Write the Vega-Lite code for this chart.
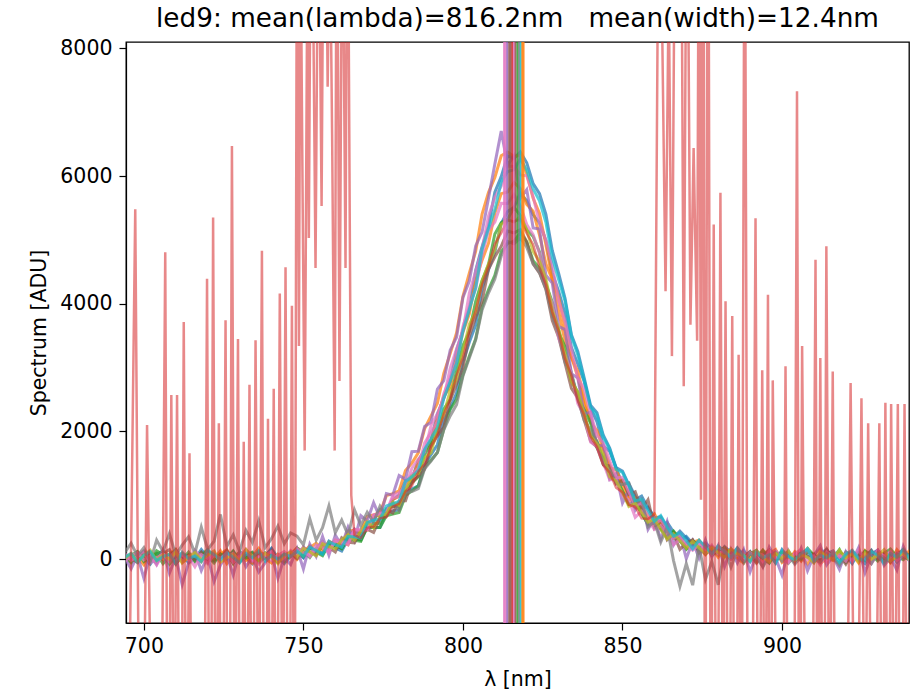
{
"$schema": "https://vega.github.io/schema/vega-lite/v6.json",
"width": 783, "height": 581,
"autosize": {"type": "none"},
"padding": {"left": 126, "top": 42, "right": 7, "bottom": 73},
"background": "white",
"title": {"text": "led9: mean(lambda)=816.2nm\u00a0\u00a0\u00a0mean(width)=12.4nm", "font": "DejaVu Sans", "fontSize": 26.3, "fontWeight": "normal", "color": "black", "anchor": "middle", "offset": 6},
"config": {
 "view": {"stroke": "black", "strokeWidth": 1.3},
 "axis": {"labelFont": "DejaVu Sans", "titleFont": "DejaVu Sans", "labelFontSize": 20.5, "titleFontSize": 20.5, "titleFontWeight": "normal", "labelColor": "black", "titleColor": "black", "tickColor": "black", "domainColor": "black", "tickSize": 7, "tickWidth": 1.2, "domainWidth": 1.2, "grid": false, "labelOverlap": false, "format": "d"}
},
"datasets": {
"spectra": [
{"s":"C0","w":694,"v":60},{"s":"C0","w":696,"v":-40},{"s":"C0","w":698,"v":110},{"s":"C0","w":700,"v":20},{"s":"C0","w":702,"v":-80},{"s":"C0","w":704,"v":70},{"s":"C0","w":706,"v":130},{"s":"C0","w":708,"v":-20},{"s":"C0","w":710,"v":40},{"s":"C0","w":712,"v":90},{"s":"C0","w":714,"v":-60},{"s":"C0","w":716,"v":10},{"s":"C0","w":718,"v":150},{"s":"C0","w":720,"v":30},{"s":"C0","w":722,"v":-30},{"s":"C0","w":724,"v":80},{"s":"C0","w":726,"v":0},{"s":"C0","w":728,"v":120},{"s":"C0","w":730,"v":-50},{"s":"C0","w":732,"v":60},{"s":"C0","w":734,"v":100},{"s":"C0","w":736,"v":-10},{"s":"C0","w":738,"v":40},{"s":"C0","w":740,"v":170},{"s":"C0","w":742,"v":20},{"s":"C0","w":744,"v":-70},{"s":"C0","w":746,"v":50},
{"s":"C0","w":748,"v":108},{"s":"C0","w":750,"v":27},{"s":"C0","w":752,"v":189},{"s":"C0","w":754,"v":128},{"s":"C0","w":756,"v":97},{"s":"C0","w":758,"v":282},{"s":"C0","w":760,"v":220},{"s":"C0","w":762,"v":168},{"s":"C0","w":764,"v":342},{"s":"C0","w":766,"v":469},{"s":"C0","w":768,"v":378},{"s":"C0","w":770,"v":564},{"s":"C0","w":772,"v":604},{"s":"C0","w":774,"v":776},{"s":"C0","w":776,"v":711},{"s":"C0","w":778,"v":928},{"s":"C0","w":780,"v":1008},{"s":"C0","w":782,"v":1233},{"s":"C0","w":784,"v":1250},{"s":"C0","w":786,"v":1543},{"s":"C0","w":788,"v":1711},{"s":"C0","w":790,"v":1860},{"s":"C0","w":792,"v":2275},{"s":"C0","w":794,"v":2521},{"s":"C0","w":796,"v":2778},{"s":"C0","w":798,"v":3274},{"s":"C0","w":800,"v":3584},{"s":"C0","w":802,"v":3906},{"s":"C0","w":804,"v":4525},{"s":"C0","w":806,"v":4896},{"s":"C0","w":808,"v":5212},{"s":"C0","w":810,"v":5746},{"s":"C0","w":812,"v":5991},{"s":"C0","w":814,"v":6318},{"s":"C0","w":816,"v":6277},{"s":"C0","w":818,"v":6377},{"s":"C0","w":820,"v":6208},{"s":"C0","w":822,"v":5881},{"s":"C0","w":824,"v":5726},{"s":"C0","w":826,"v":5402},{"s":"C0","w":828,"v":4836},{"s":"C0","w":830,"v":4475},{"s":"C0","w":832,"v":4086},{"s":"C0","w":834,"v":3514},{"s":"C0","w":836,"v":3254},{"s":"C0","w":838,"v":2838},{"s":"C0","w":840,"v":2411},{"s":"C0","w":842,"v":2295},{"s":"C0","w":844,"v":1940},{"s":"C0","w":846,"v":1741},{"s":"C0","w":848,"v":1433},{"s":"C0","w":850,"v":1380},{"s":"C0","w":852,"v":1163},{"s":"C0","w":854,"v":928},{"s":"C0","w":856,"v":988},{"s":"C0","w":858,"v":801},{"s":"C0","w":860,"v":646},{"s":"C0","w":862,"v":664},{"s":"C0","w":864,"v":494},{"s":"C0","w":866,"v":338},{"s":"C0","w":868,"v":439},{"s":"C0","w":870,"v":332},{"s":"C0","w":872,"v":208},{"s":"C0","w":874,"v":290},{"s":"C0","w":876,"v":172},{"s":"C0","w":878,"v":77},{"s":"C0","w":880,"v":188},{"s":"C0","w":882,"v":119},{"s":"C0","w":884,"v":47},{"s":"C0","w":886,"v":178},
{"s":"C0","w":888,"v":40},{"s":"C0","w":890,"v":120},{"s":"C0","w":892,"v":-30},{"s":"C0","w":894,"v":60},{"s":"C0","w":896,"v":90},{"s":"C0","w":898,"v":-60},{"s":"C0","w":900,"v":150},{"s":"C0","w":902,"v":20},{"s":"C0","w":904,"v":70},{"s":"C0","w":906,"v":-20},{"s":"C0","w":908,"v":110},{"s":"C0","w":910,"v":50},{"s":"C0","w":912,"v":-40},{"s":"C0","w":914,"v":80},{"s":"C0","w":916,"v":130},{"s":"C0","w":918,"v":0},{"s":"C0","w":920,"v":60},{"s":"C0","w":922,"v":-70},{"s":"C0","w":924,"v":100},{"s":"C0","w":926,"v":30},{"s":"C0","w":928,"v":140},{"s":"C0","w":930,"v":-10},{"s":"C0","w":932,"v":50},{"s":"C0","w":934,"v":90},{"s":"C0","w":936,"v":-50},{"s":"C0","w":938,"v":70},{"s":"C0","w":940,"v":20},
{"s":"C0b","w":694,"v":70},{"s":"C0b","w":696,"v":-30},{"s":"C0b","w":698,"v":40},{"s":"C0b","w":700,"v":120},{"s":"C0b","w":702,"v":10},{"s":"C0b","w":704,"v":-60},{"s":"C0b","w":706,"v":90},{"s":"C0b","w":708,"v":30},{"s":"C0b","w":710,"v":150},{"s":"C0b","w":712,"v":-20},{"s":"C0b","w":714,"v":60},{"s":"C0b","w":716,"v":0},{"s":"C0b","w":718,"v":110},{"s":"C0b","w":720,"v":-50},{"s":"C0b","w":722,"v":80},{"s":"C0b","w":724,"v":40},{"s":"C0b","w":726,"v":130},{"s":"C0b","w":728,"v":-10},{"s":"C0b","w":730,"v":70},{"s":"C0b","w":732,"v":20},{"s":"C0b","w":734,"v":-70},{"s":"C0b","w":736,"v":100},{"s":"C0b","w":738,"v":50},{"s":"C0b","w":740,"v":160},{"s":"C0b","w":742,"v":-40},{"s":"C0b","w":744,"v":30},{"s":"C0b","w":746,"v":90},
{"s":"C0b","w":748,"v":124},{"s":"C0b","w":750,"v":25},{"s":"C0b","w":752,"v":180},{"s":"C0b","w":754,"v":127},{"s":"C0b","w":756,"v":74},{"s":"C0b","w":758,"v":256},{"s":"C0b","w":760,"v":174},{"s":"C0b","w":762,"v":128},{"s":"C0b","w":764,"v":312},{"s":"C0b","w":766,"v":316},{"s":"C0b","w":768,"v":302},{"s":"C0b","w":770,"v":494},{"s":"C0b","w":772,"v":498},{"s":"C0b","w":774,"v":496},{"s":"C0b","w":776,"v":725},{"s":"C0b","w":778,"v":754},{"s":"C0b","w":780,"v":775},{"s":"C0b","w":782,"v":1053},{"s":"C0b","w":784,"v":1097},{"s":"C0b","w":786,"v":1148},{"s":"C0b","w":788,"v":1472},{"s":"C0b","w":790,"v":1638},{"s":"C0b","w":792,"v":1792},{"s":"C0b","w":794,"v":2184},{"s":"C0b","w":796,"v":2364},{"s":"C0b","w":798,"v":2602},{"s":"C0b","w":800,"v":3088},{"s":"C0b","w":802,"v":3396},{"s":"C0b","w":804,"v":3667},{"s":"C0b","w":806,"v":4244},{"s":"C0b","w":808,"v":4534},{"s":"C0b","w":810,"v":4813},{"s":"C0b","w":812,"v":5256},{"s":"C0b","w":814,"v":5443},{"s":"C0b","w":816,"v":5514},{"s":"C0b","w":818,"v":5730},{"s":"C0b","w":820,"v":5614},{"s":"C0b","w":822,"v":5393},{"s":"C0b","w":824,"v":5266},{"s":"C0b","w":826,"v":4993},{"s":"C0b","w":828,"v":4484},{"s":"C0b","w":830,"v":4194},{"s":"C0b","w":832,"v":3847},{"s":"C0b","w":834,"v":3316},{"s":"C0b","w":836,"v":3058},{"s":"C0b","w":838,"v":2782},{"s":"C0b","w":840,"v":2364},{"s":"C0b","w":842,"v":2154},{"s":"C0b","w":844,"v":1772},{"s":"C0b","w":846,"v":1688},{"s":"C0b","w":848,"v":1432},{"s":"C0b","w":850,"v":1168},{"s":"C0b","w":852,"v":1187},{"s":"C0b","w":854,"v":983},{"s":"C0b","w":856,"v":795},{"s":"C0b","w":858,"v":814},{"s":"C0b","w":860,"v":655},{"s":"C0b","w":862,"v":486},{"s":"C0b","w":864,"v":578},{"s":"C0b","w":866,"v":424},{"s":"C0b","w":868,"v":292},{"s":"C0b","w":870,"v":356},{"s":"C0b","w":872,"v":242},{"s":"C0b","w":874,"v":138},{"s":"C0b","w":876,"v":254},{"s":"C0b","w":878,"v":156},{"s":"C0b","w":880,"v":64},{"s":"C0b","w":882,"v":197},{"s":"C0b","w":884,"v":110},{"s":"C0b","w":886,"v":35},{"s":"C0b","w":888,"v":134},
{"s":"C0b","w":890,"v":-20},{"s":"C0b","w":892,"v":100},{"s":"C0b","w":894,"v":40},{"s":"C0b","w":896,"v":-60},{"s":"C0b","w":898,"v":130},{"s":"C0b","w":900,"v":20},{"s":"C0b","w":902,"v":70},{"s":"C0b","w":904,"v":-30},{"s":"C0b","w":906,"v":110},{"s":"C0b","w":908,"v":50},{"s":"C0b","w":910,"v":-50},{"s":"C0b","w":912,"v":90},{"s":"C0b","w":914,"v":150},{"s":"C0b","w":916,"v":0},{"s":"C0b","w":918,"v":60},{"s":"C0b","w":920,"v":-40},{"s":"C0b","w":922,"v":120},{"s":"C0b","w":924,"v":30},{"s":"C0b","w":926,"v":-70},{"s":"C0b","w":928,"v":80},{"s":"C0b","w":930,"v":140},{"s":"C0b","w":932,"v":10},{"s":"C0b","w":934,"v":-20},{"s":"C0b","w":936,"v":100},{"s":"C0b","w":938,"v":50},{"s":"C0b","w":940,"v":-10},
{"s":"C1","w":694,"v":-20},{"s":"C1","w":696,"v":70},{"s":"C1","w":698,"v":30},{"s":"C1","w":700,"v":-90},{"s":"C1","w":702,"v":110},{"s":"C1","w":704,"v":40},{"s":"C1","w":706,"v":-10},{"s":"C1","w":708,"v":80},{"s":"C1","w":710,"v":150},{"s":"C1","w":712,"v":-50},{"s":"C1","w":714,"v":20},{"s":"C1","w":716,"v":90},{"s":"C1","w":718,"v":-30},{"s":"C1","w":720,"v":60},{"s":"C1","w":722,"v":0},{"s":"C1","w":724,"v":130},{"s":"C1","w":726,"v":-70},{"s":"C1","w":728,"v":50},{"s":"C1","w":730,"v":100},{"s":"C1","w":732,"v":-20},{"s":"C1","w":734,"v":40},{"s":"C1","w":736,"v":170},{"s":"C1","w":738,"v":10},{"s":"C1","w":740,"v":-60},{"s":"C1","w":742,"v":80},{"s":"C1","w":744,"v":30},
{"s":"C1","w":746,"v":115},{"s":"C1","w":748,"v":-4},{"s":"C1","w":750,"v":102},{"s":"C1","w":752,"v":210},{"s":"C1","w":754,"v":87},{"s":"C1","w":756,"v":200},{"s":"C1","w":758,"v":159},{"s":"C1","w":760,"v":294},{"s":"C1","w":762,"v":279},{"s":"C1","w":764,"v":225},{"s":"C1","w":766,"v":413},{"s":"C1","w":768,"v":427},{"s":"C1","w":770,"v":454},{"s":"C1","w":772,"v":685},{"s":"C1","w":774,"v":686},{"s":"C1","w":776,"v":679},{"s":"C1","w":778,"v":934},{"s":"C1","w":780,"v":985},{"s":"C1","w":782,"v":1175},{"s":"C1","w":784,"v":1221},{"s":"C1","w":786,"v":1541},{"s":"C1","w":788,"v":1674},{"s":"C1","w":790,"v":1846},{"s":"C1","w":792,"v":2217},{"s":"C1","w":794,"v":2557},{"s":"C1","w":796,"v":2696},{"s":"C1","w":798,"v":3144},{"s":"C1","w":800,"v":3555},{"s":"C1","w":802,"v":3840},{"s":"C1","w":804,"v":4370},{"s":"C1","w":806,"v":4684},{"s":"C1","w":808,"v":4945},{"s":"C1","w":810,"v":5420},{"s":"C1","w":812,"v":5725},{"s":"C1","w":814,"v":5752},{"s":"C1","w":816,"v":5900},{"s":"C1","w":818,"v":5802},{"s":"C1","w":820,"v":5555},{"s":"C1","w":822,"v":5450},{"s":"C1","w":824,"v":5075},{"s":"C1","w":826,"v":4624},{"s":"C1","w":828,"v":4380},{"s":"C1","w":830,"v":3880},{"s":"C1","w":832,"v":3405},{"s":"C1","w":834,"v":3164},{"s":"C1","w":836,"v":2856},{"s":"C1","w":838,"v":2417},{"s":"C1","w":840,"v":2197},{"s":"C1","w":842,"v":1806},{"s":"C1","w":844,"v":1744},{"s":"C1","w":846,"v":1481},{"s":"C1","w":848,"v":1241},{"s":"C1","w":850,"v":1235},{"s":"C1","w":852,"v":985},{"s":"C1","w":854,"v":804},{"s":"C1","w":856,"v":819},{"s":"C1","w":858,"v":676},{"s":"C1","w":860,"v":505},{"s":"C1","w":862,"v":594},{"s":"C1","w":864,"v":447},{"s":"C1","w":866,"v":323},{"s":"C1","w":868,"v":365},{"s":"C1","w":870,"v":189},{"s":"C1","w":872,"v":264},{"s":"C1","w":874,"v":299},{"s":"C1","w":876,"v":130},{"s":"C1","w":878,"v":167},{"s":"C1","w":880,"v":30},{"s":"C1","w":882,"v":172},{"s":"C1","w":884,"v":96},{"s":"C1","w":886,"v":25},
{"s":"C1","w":888,"v":100},{"s":"C1","w":890,"v":30},{"s":"C1","w":892,"v":-50},{"s":"C1","w":894,"v":140},{"s":"C1","w":896,"v":60},{"s":"C1","w":898,"v":10},{"s":"C1","w":900,"v":90},{"s":"C1","w":902,"v":-30},{"s":"C1","w":904,"v":120},{"s":"C1","w":906,"v":50},{"s":"C1","w":908,"v":-80},{"s":"C1","w":910,"v":70},{"s":"C1","w":912,"v":160},{"s":"C1","w":914,"v":20},{"s":"C1","w":916,"v":-20},{"s":"C1","w":918,"v":110},{"s":"C1","w":920,"v":40},{"s":"C1","w":922,"v":80},{"s":"C1","w":924,"v":-60},{"s":"C1","w":926,"v":130},{"s":"C1","w":928,"v":0},{"s":"C1","w":930,"v":60},{"s":"C1","w":932,"v":100},{"s":"C1","w":934,"v":-40},{"s":"C1","w":936,"v":150},{"s":"C1","w":938,"v":30},{"s":"C1","w":940,"v":70},
{"s":"C1b","w":694,"v":40},{"s":"C1b","w":696,"v":-50},{"s":"C1b","w":698,"v":100},{"s":"C1b","w":700,"v":10},{"s":"C1b","w":702,"v":70},{"s":"C1b","w":704,"v":-20},{"s":"C1b","w":706,"v":130},{"s":"C1b","w":708,"v":50},{"s":"C1b","w":710,"v":-80},{"s":"C1b","w":712,"v":90},{"s":"C1b","w":714,"v":20},{"s":"C1b","w":716,"v":60},{"s":"C1b","w":718,"v":-40},{"s":"C1b","w":720,"v":110},{"s":"C1b","w":722,"v":0},{"s":"C1b","w":724,"v":80},{"s":"C1b","w":726,"v":150},{"s":"C1b","w":728,"v":-30},{"s":"C1b","w":730,"v":60},{"s":"C1b","w":732,"v":20},{"s":"C1b","w":734,"v":-60},{"s":"C1b","w":736,"v":120},{"s":"C1b","w":738,"v":40},{"s":"C1b","w":740,"v":90},{"s":"C1b","w":742,"v":-10},{"s":"C1b","w":744,"v":70},
{"s":"C1b","w":746,"v":88},{"s":"C1b","w":748,"v":177},{"s":"C1b","w":750,"v":50},{"s":"C1b","w":752,"v":179},{"s":"C1b","w":754,"v":248},{"s":"C1b","w":756,"v":143},{"s":"C1b","w":758,"v":271},{"s":"C1b","w":760,"v":250},{"s":"C1b","w":762,"v":224},{"s":"C1b","w":764,"v":441},{"s":"C1b","w":766,"v":451},{"s":"C1b","w":768,"v":437},{"s":"C1b","w":770,"v":669},{"s":"C1b","w":772,"v":691},{"s":"C1b","w":774,"v":727},{"s":"C1b","w":776,"v":995},{"s":"C1b","w":778,"v":1025},{"s":"C1b","w":780,"v":1071},{"s":"C1b","w":782,"v":1390},{"s":"C1b","w":784,"v":1504},{"s":"C1b","w":786,"v":1664},{"s":"C1b","w":788,"v":2045},{"s":"C1b","w":790,"v":2242},{"s":"C1b","w":792,"v":2440},{"s":"C1b","w":794,"v":2910},{"s":"C1b","w":796,"v":3219},{"s":"C1b","w":798,"v":3542},{"s":"C1b","w":800,"v":4118},{"s":"C1b","w":802,"v":4480},{"s":"C1b","w":804,"v":4824},{"s":"C1b","w":806,"v":5403},{"s":"C1b","w":808,"v":5741},{"s":"C1b","w":810,"v":5978},{"s":"C1b","w":812,"v":6317},{"s":"C1b","w":814,"v":6377},{"s":"C1b","w":816,"v":6307},{"s":"C1b","w":818,"v":6327},{"s":"C1b","w":820,"v":6038},{"s":"C1b","w":822,"v":5651},{"s":"C1b","w":824,"v":5413},{"s":"C1b","w":826,"v":4924},{"s":"C1b","w":828,"v":4380},{"s":"C1b","w":830,"v":4108},{"s":"C1b","w":832,"v":3612},{"s":"C1b","w":834,"v":3159},{"s":"C1b","w":836,"v":2940},{"s":"C1b","w":838,"v":2530},{"s":"C1b","w":840,"v":2142},{"s":"C1b","w":842,"v":2015},{"s":"C1b","w":844,"v":1714},{"s":"C1b","w":846,"v":1434},{"s":"C1b","w":848,"v":1400},{"s":"C1b","w":850,"v":1171},{"s":"C1b","w":852,"v":925},{"s":"C1b","w":854,"v":965},{"s":"C1b","w":856,"v":777},{"s":"C1b","w":858,"v":631},{"s":"C1b","w":860,"v":709},{"s":"C1b","w":862,"v":517},{"s":"C1b","w":864,"v":351},{"s":"C1b","w":866,"v":421},{"s":"C1b","w":868,"v":304},{"s":"C1b","w":870,"v":190},{"s":"C1b","w":872,"v":291},{"s":"C1b","w":874,"v":173},{"s":"C1b","w":876,"v":68},{"s":"C1b","w":878,"v":179},{"s":"C1b","w":880,"v":120},{"s":"C1b","w":882,"v":47},{"s":"C1b","w":884,"v":158},
{"s":"C1b","w":886,"v":10},{"s":"C1b","w":888,"v":-60},{"s":"C1b","w":890,"v":110},{"s":"C1b","w":892,"v":40},{"s":"C1b","w":894,"v":-20},{"s":"C1b","w":896,"v":80},{"s":"C1b","w":898,"v":150},{"s":"C1b","w":900,"v":-50},{"s":"C1b","w":902,"v":30},{"s":"C1b","w":904,"v":90},{"s":"C1b","w":906,"v":-30},{"s":"C1b","w":908,"v":120},{"s":"C1b","w":910,"v":60},{"s":"C1b","w":912,"v":-70},{"s":"C1b","w":914,"v":20},{"s":"C1b","w":916,"v":100},{"s":"C1b","w":918,"v":40},{"s":"C1b","w":920,"v":-40},{"s":"C1b","w":922,"v":130},{"s":"C1b","w":924,"v":0},{"s":"C1b","w":926,"v":70},{"s":"C1b","w":928,"v":-20},{"s":"C1b","w":930,"v":110},{"s":"C1b","w":932,"v":50},{"s":"C1b","w":934,"v":-60},{"s":"C1b","w":936,"v":80},{"s":"C1b","w":938,"v":20},{"s":"C1b","w":940,"v":140},
{"s":"C2","w":694,"v":50},{"s":"C2","w":696,"v":-60},{"s":"C2","w":698,"v":90},{"s":"C2","w":700,"v":20},{"s":"C2","w":702,"v":-30},{"s":"C2","w":704,"v":130},{"s":"C2","w":706,"v":70},{"s":"C2","w":708,"v":-80},{"s":"C2","w":710,"v":40},{"s":"C2","w":712,"v":0},{"s":"C2","w":714,"v":110},{"s":"C2","w":716,"v":-40},{"s":"C2","w":718,"v":60},{"s":"C2","w":720,"v":150},{"s":"C2","w":722,"v":-10},{"s":"C2","w":724,"v":30},{"s":"C2","w":726,"v":90},{"s":"C2","w":728,"v":-70},{"s":"C2","w":730,"v":120},{"s":"C2","w":732,"v":20},{"s":"C2","w":734,"v":60},{"s":"C2","w":736,"v":-30},{"s":"C2","w":738,"v":100},{"s":"C2","w":740,"v":40},{"s":"C2","w":742,"v":-50},{"s":"C2","w":744,"v":80},
{"s":"C2","w":746,"v":42},{"s":"C2","w":748,"v":173},{"s":"C2","w":750,"v":119},{"s":"C2","w":752,"v":25},{"s":"C2","w":754,"v":171},{"s":"C2","w":756,"v":273},{"s":"C2","w":758,"v":130},{"s":"C2","w":760,"v":242},{"s":"C2","w":762,"v":164},{"s":"C2","w":764,"v":358},{"s":"C2","w":766,"v":332},{"s":"C2","w":768,"v":301},{"s":"C2","w":770,"v":522},{"s":"C2","w":772,"v":558},{"s":"C2","w":774,"v":563},{"s":"C2","w":776,"v":790},{"s":"C2","w":778,"v":827},{"s":"C2","w":780,"v":820},{"s":"C2","w":782,"v":1110},{"s":"C2","w":784,"v":1196},{"s":"C2","w":786,"v":1293},{"s":"C2","w":788,"v":1642},{"s":"C2","w":790,"v":1798},{"s":"C2","w":792,"v":1981},{"s":"C2","w":794,"v":2351},{"s":"C2","w":796,"v":2498},{"s":"C2","w":798,"v":2942},{"s":"C2","w":800,"v":3348},{"s":"C2","w":802,"v":3565},{"s":"C2","w":804,"v":4037},{"s":"C2","w":806,"v":4365},{"s":"C2","w":808,"v":4610},{"s":"C2","w":810,"v":5093},{"s":"C2","w":812,"v":5270},{"s":"C2","w":814,"v":5326},{"s":"C2","w":816,"v":5510},{"s":"C2","w":818,"v":5386},{"s":"C2","w":820,"v":5160},{"s":"C2","w":822,"v":5053},{"s":"C2","w":824,"v":4810},{"s":"C2","w":826,"v":4315},{"s":"C2","w":828,"v":4027},{"s":"C2","w":830,"v":3545},{"s":"C2","w":832,"v":3328},{"s":"C2","w":834,"v":2912},{"s":"C2","w":836,"v":2528},{"s":"C2","w":838,"v":2341},{"s":"C2","w":840,"v":2131},{"s":"C2","w":842,"v":1748},{"s":"C2","w":844,"v":1582},{"s":"C2","w":846,"v":1273},{"s":"C2","w":848,"v":1276},{"s":"C2","w":850,"v":1070},{"s":"C2","w":852,"v":860},{"s":"C2","w":854,"v":907},{"s":"C2","w":856,"v":720},{"s":"C2","w":858,"v":553},{"s":"C2","w":860,"v":618},{"s":"C2","w":862,"v":472},{"s":"C2","w":864,"v":341},{"s":"C2","w":866,"v":442},{"s":"C2","w":868,"v":318},{"s":"C2","w":870,"v":154},{"s":"C2","w":872,"v":252},{"s":"C2","w":874,"v":160},{"s":"C2","w":876,"v":223},{"s":"C2","w":878,"v":61},{"s":"C2","w":880,"v":135},{"s":"C2","w":882,"v":179},{"s":"C2","w":884,"v":43},{"s":"C2","w":886,"v":122},
{"s":"C2","w":888,"v":-30},{"s":"C2","w":890,"v":80},{"s":"C2","w":892,"v":140},{"s":"C2","w":894,"v":10},{"s":"C2","w":896,"v":-60},{"s":"C2","w":898,"v":90},{"s":"C2","w":900,"v":50},{"s":"C2","w":902,"v":120},{"s":"C2","w":904,"v":-20},{"s":"C2","w":906,"v":30},{"s":"C2","w":908,"v":170},{"s":"C2","w":910,"v":60},{"s":"C2","w":912,"v":-40},{"s":"C2","w":914,"v":100},{"s":"C2","w":916,"v":20},{"s":"C2","w":918,"v":-70},{"s":"C2","w":920,"v":110},{"s":"C2","w":922,"v":50},{"s":"C2","w":924,"v":0},{"s":"C2","w":926,"v":130},{"s":"C2","w":928,"v":70},{"s":"C2","w":930,"v":-30},{"s":"C2","w":932,"v":90},{"s":"C2","w":934,"v":160},{"s":"C2","w":936,"v":40},{"s":"C2","w":938,"v":-10},{"s":"C2","w":940,"v":80},
{"s":"C2b","w":694,"v":-10},{"s":"C2b","w":696,"v":60},{"s":"C2b","w":698,"v":120},{"s":"C2b","w":700,"v":-40},{"s":"C2b","w":702,"v":30},{"s":"C2b","w":704,"v":90},{"s":"C2b","w":706,"v":-70},{"s":"C2b","w":708,"v":50},{"s":"C2b","w":710,"v":140},{"s":"C2b","w":712,"v":0},{"s":"C2b","w":714,"v":70},{"s":"C2b","w":716,"v":-30},{"s":"C2b","w":718,"v":100},{"s":"C2b","w":720,"v":40},{"s":"C2b","w":722,"v":-60},{"s":"C2b","w":724,"v":80},{"s":"C2b","w":726,"v":20},{"s":"C2b","w":728,"v":130},{"s":"C2b","w":730,"v":-20},{"s":"C2b","w":732,"v":60},{"s":"C2b","w":734,"v":110},{"s":"C2b","w":736,"v":-50},{"s":"C2b","w":738,"v":40},{"s":"C2b","w":740,"v":90},{"s":"C2b","w":742,"v":10},{"s":"C2b","w":744,"v":-40},{"s":"C2b","w":746,"v":70},
{"s":"C2b","w":748,"v":110},{"s":"C2b","w":750,"v":45},{"s":"C2b","w":752,"v":175},{"s":"C2b","w":754,"v":110},{"s":"C2b","w":756,"v":55},{"s":"C2b","w":758,"v":235},{"s":"C2b","w":760,"v":205},{"s":"C2b","w":762,"v":175},{"s":"C2b","w":764,"v":310},{"s":"C2b","w":766,"v":295},{"s":"C2b","w":768,"v":280},{"s":"C2b","w":770,"v":500},{"s":"C2b","w":772,"v":500},{"s":"C2b","w":774,"v":495},{"s":"C2b","w":776,"v":680},{"s":"C2b","w":778,"v":705},{"s":"C2b","w":780,"v":730},{"s":"C2b","w":782,"v":995},{"s":"C2b","w":784,"v":1070},{"s":"C2b","w":786,"v":1145},{"s":"C2b","w":788,"v":1440},{"s":"C2b","w":790,"v":1550},{"s":"C2b","w":792,"v":1670},{"s":"C2b","w":794,"v":2035},{"s":"C2b","w":796,"v":2345},{"s":"C2b","w":798,"v":2505},{"s":"C2b","w":800,"v":2885},{"s":"C2b","w":802,"v":3180},{"s":"C2b","w":804,"v":3450},{"s":"C2b","w":806,"v":3950},{"s":"C2b","w":808,"v":4220},{"s":"C2b","w":810,"v":4445},{"s":"C2b","w":812,"v":4815},{"s":"C2b","w":814,"v":4945},{"s":"C2b","w":816,"v":4980},{"s":"C2b","w":818,"v":5110},{"s":"C2b","w":820,"v":4965},{"s":"C2b","w":822,"v":4675},{"s":"C2b","w":824,"v":4555},{"s":"C2b","w":826,"v":4310},{"s":"C2b","w":828,"v":3850},{"s":"C2b","w":830,"v":3590},{"s":"C2b","w":832,"v":3200},{"s":"C2b","w":834,"v":2785},{"s":"C2b","w":836,"v":2615},{"s":"C2b","w":838,"v":2255},{"s":"C2b","w":840,"v":1935},{"s":"C2b","w":842,"v":1850},{"s":"C2b","w":844,"v":1570},{"s":"C2b","w":846,"v":1280},{"s":"C2b","w":848,"v":1255},{"s":"C2b","w":850,"v":1050},{"s":"C2b","w":852,"v":855},{"s":"C2b","w":854,"v":890},{"s":"C2b","w":856,"v":725},{"s":"C2b","w":858,"v":540},{"s":"C2b","w":860,"v":595},{"s":"C2b","w":862,"v":490},{"s":"C2b","w":864,"v":350},{"s":"C2b","w":866,"v":420},{"s":"C2b","w":868,"v":285},{"s":"C2b","w":870,"v":170},{"s":"C2b","w":872,"v":295},{"s":"C2b","w":874,"v":195},{"s":"C2b","w":876,"v":85},{"s":"C2b","w":878,"v":195},{"s":"C2b","w":880,"v":110},{"s":"C2b","w":882,"v":45},{"s":"C2b","w":884,"v":145},{"s":"C2b","w":886,"v":80},
{"s":"C2b","w":888,"v":-40},{"s":"C2b","w":890,"v":90},{"s":"C2b","w":892,"v":30},{"s":"C2b","w":894,"v":140},{"s":"C2b","w":896,"v":-20},{"s":"C2b","w":898,"v":60},{"s":"C2b","w":900,"v":110},{"s":"C2b","w":902,"v":-60},{"s":"C2b","w":904,"v":50},{"s":"C2b","w":906,"v":0},{"s":"C2b","w":908,"v":120},{"s":"C2b","w":910,"v":70},{"s":"C2b","w":912,"v":-30},{"s":"C2b","w":914,"v":90},{"s":"C2b","w":916,"v":20},{"s":"C2b","w":918,"v":150},{"s":"C2b","w":920,"v":-50},{"s":"C2b","w":922,"v":60},{"s":"C2b","w":924,"v":100},{"s":"C2b","w":926,"v":-10},{"s":"C2b","w":928,"v":40},{"s":"C2b","w":930,"v":130},{"s":"C2b","w":932,"v":-40},{"s":"C2b","w":934,"v":80},{"s":"C2b","w":936,"v":20},{"s":"C2b","w":938,"v":60},{"s":"C2b","w":940,"v":-20},
{"s":"C4","w":694,"v":20},{"s":"C4","w":696,"v":-150},{"s":"C4","w":698,"v":60},{"s":"C4","w":700,"v":-300},{"s":"C4","w":702,"v":90},{"s":"C4","w":704,"v":-80},{"s":"C4","w":706,"v":140},{"s":"C4","w":708,"v":-220},{"s":"C4","w":710,"v":30},{"s":"C4","w":712,"v":-400},{"s":"C4","w":714,"v":-60},{"s":"C4","w":716,"v":110},{"s":"C4","w":718,"v":-180},{"s":"C4","w":720,"v":50},{"s":"C4","w":722,"v":-350},{"s":"C4","w":724,"v":-90},{"s":"C4","w":726,"v":70},{"s":"C4","w":728,"v":-250},{"s":"C4","w":730,"v":130},{"s":"C4","w":732,"v":-120},{"s":"C4","w":734,"v":40},{"s":"C4","w":736,"v":-200},{"s":"C4","w":738,"v":-60},{"s":"C4","w":740,"v":90},{"s":"C4","w":742,"v":-300},{"s":"C4","w":744,"v":20},
{"s":"C4","w":746,"v":-84},{"s":"C4","w":748,"v":164},{"s":"C4","w":750,"v":-154},{"s":"C4","w":752,"v":234},{"s":"C4","w":754,"v":42},{"s":"C4","w":756,"v":356},{"s":"C4","w":758,"v":62},{"s":"C4","w":760,"v":378},{"s":"C4","w":762,"v":210},{"s":"C4","w":764,"v":504},{"s":"C4","w":766,"v":290},{"s":"C4","w":768,"v":682},{"s":"C4","w":770,"v":598},{"s":"C4","w":772,"v":886},{"s":"C4","w":774,"v":646},{"s":"C4","w":776,"v":1028},{"s":"C4","w":778,"v":1002},{"s":"C4","w":780,"v":1310},{"s":"C4","w":782,"v":1250},{"s":"C4","w":784,"v":1684},{"s":"C4","w":786,"v":1692},{"s":"C4","w":788,"v":2080},{"s":"C4","w":790,"v":2142},{"s":"C4","w":792,"v":2664},{"s":"C4","w":794,"v":2796},{"s":"C4","w":796,"v":3274},{"s":"C4","w":798,"v":3476},{"s":"C4","w":800,"v":4098},{"s":"C4","w":802,"v":4356},{"s":"C4","w":804,"v":4906},{"s":"C4","w":806,"v":5122},{"s":"C4","w":808,"v":5648},{"s":"C4","w":810,"v":6188},{"s":"C4","w":812,"v":6704},{"s":"C4","w":814,"v":6168},{"s":"C4","w":816,"v":6318},{"s":"C4","w":818,"v":5654},{"s":"C4","w":820,"v":5788},{"s":"C4","w":822,"v":5188},{"s":"C4","w":824,"v":5172},{"s":"C4","w":826,"v":4446},{"s":"C4","w":828,"v":4326},{"s":"C4","w":830,"v":3648},{"s":"C4","w":832,"v":3596},{"s":"C4","w":834,"v":2904},{"s":"C4","w":836,"v":2836},{"s":"C4","w":838,"v":2274},{"s":"C4","w":840,"v":2302},{"s":"C4","w":842,"v":1770},{"s":"C4","w":844,"v":1782},{"s":"C4","w":846,"v":1254},{"s":"C4","w":848,"v":1340},{"s":"C4","w":850,"v":880},{"s":"C4","w":852,"v":1082},{"s":"C4","w":854,"v":768},{"s":"C4","w":856,"v":916},{"s":"C4","w":858,"v":466},{"s":"C4","w":860,"v":638},{"s":"C4","w":862,"v":312},{"s":"C4","w":864,"v":590},{"s":"C4","w":866,"v":224},{"s":"C4","w":868,"v":400},{"s":"C4","w":870,"v":8},{"s":"C4","w":872,"v":282},{"s":"C4","w":874,"v":16},{"s":"C4","w":876,"v":302},{"s":"C4","w":878,"v":34},{"s":"C4","w":880,"v":216},{"s":"C4","w":882,"v":-116},{"s":"C4","w":884,"v":156},
{"s":"C4","w":886,"v":-60},{"s":"C4","w":888,"v":150},{"s":"C4","w":890,"v":-200},{"s":"C4","w":892,"v":80},{"s":"C4","w":894,"v":-120},{"s":"C4","w":896,"v":190},{"s":"C4","w":898,"v":20},{"s":"C4","w":900,"v":-250},{"s":"C4","w":902,"v":130},{"s":"C4","w":904,"v":-50},{"s":"C4","w":906,"v":170},{"s":"C4","w":908,"v":-180},{"s":"C4","w":910,"v":60},{"s":"C4","w":912,"v":210},{"s":"C4","w":914,"v":-90},{"s":"C4","w":916,"v":40},{"s":"C4","w":918,"v":-160},{"s":"C4","w":920,"v":120},{"s":"C4","w":922,"v":-30},{"s":"C4","w":924,"v":180},{"s":"C4","w":926,"v":-210},{"s":"C4","w":928,"v":70},{"s":"C4","w":930,"v":140},{"s":"C4","w":932,"v":-100},{"s":"C4","w":934,"v":30},{"s":"C4","w":936,"v":-170},{"s":"C4","w":938,"v":200},{"s":"C4","w":940,"v":-40},
{"s":"C5","w":694,"v":80},{"s":"C5","w":696,"v":10},{"s":"C5","w":698,"v":-50},{"s":"C5","w":700,"v":120},{"s":"C5","w":702,"v":40},{"s":"C5","w":704,"v":-20},{"s":"C5","w":706,"v":90},{"s":"C5","w":708,"v":150},{"s":"C5","w":710,"v":-70},{"s":"C5","w":712,"v":30},{"s":"C5","w":714,"v":60},{"s":"C5","w":716,"v":-10},{"s":"C5","w":718,"v":110},{"s":"C5","w":720,"v":-40},{"s":"C5","w":722,"v":70},{"s":"C5","w":724,"v":20},{"s":"C5","w":726,"v":140},{"s":"C5","w":728,"v":-60},{"s":"C5","w":730,"v":50},{"s":"C5","w":732,"v":100},{"s":"C5","w":734,"v":-30},{"s":"C5","w":736,"v":80},{"s":"C5","w":738,"v":10},{"s":"C5","w":740,"v":130},{"s":"C5","w":742,"v":-20},{"s":"C5","w":744,"v":60},
{"s":"C5","w":746,"v":101},{"s":"C5","w":748,"v":11},{"s":"C5","w":750,"v":186},{"s":"C5","w":752,"v":111},{"s":"C5","w":754,"v":67},{"s":"C5","w":756,"v":217},{"s":"C5","w":758,"v":182},{"s":"C5","w":760,"v":113},{"s":"C5","w":762,"v":334},{"s":"C5","w":764,"v":264},{"s":"C5","w":766,"v":255},{"s":"C5","w":768,"v":442},{"s":"C5","w":770,"v":468},{"s":"C5","w":772,"v":419},{"s":"C5","w":774,"v":641},{"s":"C5","w":776,"v":772},{"s":"C5","w":778,"v":724},{"s":"C5","w":780,"v":911},{"s":"C5","w":782,"v":914},{"s":"C5","w":784,"v":1211},{"s":"C5","w":786,"v":1300},{"s":"C5","w":788,"v":1408},{"s":"C5","w":790,"v":1762},{"s":"C5","w":792,"v":1932},{"s":"C5","w":794,"v":2067},{"s":"C5","w":796,"v":2487},{"s":"C5","w":798,"v":2743},{"s":"C5","w":800,"v":2999},{"s":"C5","w":802,"v":3496},{"s":"C5","w":804,"v":3788},{"s":"C5","w":806,"v":4035},{"s":"C5","w":808,"v":4541},{"s":"C5","w":810,"v":4737},{"s":"C5","w":812,"v":4901},{"s":"C5","w":814,"v":5139},{"s":"C5","w":816,"v":5110},{"s":"C5","w":818,"v":5159},{"s":"C5","w":820,"v":4971},{"s":"C5","w":822,"v":4627},{"s":"C5","w":824,"v":4481},{"s":"C5","w":826,"v":4225},{"s":"C5","w":828,"v":3738},{"s":"C5","w":830,"v":3476},{"s":"C5","w":832,"v":3069},{"s":"C5","w":834,"v":2673},{"s":"C5","w":836,"v":2527},{"s":"C5","w":838,"v":2177},{"s":"C5","w":840,"v":1852},{"s":"C5","w":842,"v":1752},{"s":"C5","w":844,"v":1478},{"s":"C5","w":846,"v":1460},{"s":"C5","w":848,"v":1181},{"s":"C5","w":850,"v":1234},{"s":"C5","w":852,"v":1011},{"s":"C5","w":854,"v":1054},{"s":"C5","w":856,"v":782},{"s":"C5","w":858,"v":931},{"s":"C5","w":860,"v":489},{"s":"C5","w":862,"v":618},{"s":"C5","w":864,"v":302},{"s":"C5","w":866,"v":395},{"s":"C5","w":868,"v":154},{"s":"C5","w":870,"v":254},{"s":"C5","w":872,"v":303},{"s":"C5","w":874,"v":102},{"s":"C5","w":876,"v":197},{"s":"C5","w":878,"v":87},{"s":"C5","w":880,"v":191},{"s":"C5","w":882,"v":106},{"s":"C5","w":884,"v":1},{"s":"C5","w":886,"v":121},
{"s":"C5","w":888,"v":20},{"s":"C5","w":890,"v":110},{"s":"C5","w":892,"v":-60},{"s":"C5","w":894,"v":70},{"s":"C5","w":896,"v":140},{"s":"C5","w":898,"v":-10},{"s":"C5","w":900,"v":40},{"s":"C5","w":902,"v":90},{"s":"C5","w":904,"v":-50},{"s":"C5","w":906,"v":120},{"s":"C5","w":908,"v":30},{"s":"C5","w":910,"v":80},{"s":"C5","w":912,"v":-30},{"s":"C5","w":914,"v":160},{"s":"C5","w":916,"v":0},{"s":"C5","w":918,"v":60},{"s":"C5","w":920,"v":-80},{"s":"C5","w":922,"v":100},{"s":"C5","w":924,"v":50},{"s":"C5","w":926,"v":-20},{"s":"C5","w":928,"v":130},{"s":"C5","w":930,"v":10},{"s":"C5","w":932,"v":90},{"s":"C5","w":934,"v":-40},{"s":"C5","w":936,"v":70},{"s":"C5","w":938,"v":150},{"s":"C5","w":940,"v":20},
{"s":"C6","w":694,"v":-40},{"s":"C6","w":696,"v":60},{"s":"C6","w":698,"v":100},{"s":"C6","w":700,"v":-10},{"s":"C6","w":702,"v":50},{"s":"C6","w":704,"v":-90},{"s":"C6","w":706,"v":80},{"s":"C6","w":708,"v":20},{"s":"C6","w":710,"v":130},{"s":"C6","w":712,"v":-30},{"s":"C6","w":714,"v":40},{"s":"C6","w":716,"v":-120},{"s":"C6","w":718,"v":70},{"s":"C6","w":720,"v":10},{"s":"C6","w":722,"v":110},{"s":"C6","w":724,"v":-60},{"s":"C6","w":726,"v":30},{"s":"C6","w":728,"v":90},{"s":"C6","w":730,"v":-20},{"s":"C6","w":732,"v":140},{"s":"C6","w":734,"v":0},{"s":"C6","w":736,"v":-80},{"s":"C6","w":738,"v":60},{"s":"C6","w":740,"v":120},{"s":"C6","w":742,"v":-40},{"s":"C6","w":744,"v":30},
{"s":"C6","w":746,"v":134},{"s":"C6","w":748,"v":50},{"s":"C6","w":750,"v":192},{"s":"C6","w":752,"v":38},{"s":"C6","w":754,"v":165},{"s":"C6","w":756,"v":268},{"s":"C6","w":758,"v":131},{"s":"C6","w":760,"v":275},{"s":"C6","w":762,"v":264},{"s":"C6","w":764,"v":224},{"s":"C6","w":766,"v":456},{"s":"C6","w":768,"v":463},{"s":"C6","w":770,"v":463},{"s":"C6","w":772,"v":696},{"s":"C6","w":774,"v":700},{"s":"C6","w":776,"v":735},{"s":"C6","w":778,"v":961},{"s":"C6","w":780,"v":980},{"s":"C6","w":782,"v":1210},{"s":"C6","w":784,"v":1322},{"s":"C6","w":786,"v":1427},{"s":"C6","w":788,"v":1820},{"s":"C6","w":790,"v":1985},{"s":"C6","w":792,"v":2158},{"s":"C6","w":794,"v":2590},{"s":"C6","w":796,"v":2844},{"s":"C6","w":798,"v":3112},{"s":"C6","w":800,"v":3647},{"s":"C6","w":802,"v":3958},{"s":"C6","w":804,"v":4240},{"s":"C6","w":806,"v":4759},{"s":"C6","w":808,"v":5151},{"s":"C6","w":810,"v":5281},{"s":"C6","w":812,"v":5572},{"s":"C6","w":814,"v":5569},{"s":"C6","w":816,"v":5709},{"s":"C6","w":818,"v":5532},{"s":"C6","w":820,"v":5241},{"s":"C6","w":822,"v":5081},{"s":"C6","w":824,"v":4789},{"s":"C6","w":826,"v":4280},{"s":"C6","w":828,"v":3998},{"s":"C6","w":830,"v":3457},{"s":"C6","w":832,"v":3202},{"s":"C6","w":834,"v":2904},{"s":"C6","w":836,"v":2440},{"s":"C6","w":838,"v":2248},{"s":"C6","w":840,"v":1835},{"s":"C6","w":842,"v":1770},{"s":"C6","w":844,"v":1507},{"s":"C6","w":846,"v":1242},{"s":"C6","w":848,"v":1250},{"s":"C6","w":850,"v":990},{"s":"C6","w":852,"v":931},{"s":"C6","w":854,"v":655},{"s":"C6","w":856,"v":750},{"s":"C6","w":858,"v":616},{"s":"C6","w":860,"v":463},{"s":"C6","w":862,"v":523},{"s":"C6","w":864,"v":396},{"s":"C6","w":866,"v":224},{"s":"C6","w":868,"v":314},{"s":"C6","w":870,"v":225},{"s":"C6","w":872,"v":141},{"s":"C6","w":874,"v":228},{"s":"C6","w":876,"v":95},{"s":"C6","w":878,"v":218},{"s":"C6","w":880,"v":82},{"s":"C6","w":882,"v":130},{"s":"C6","w":884,"v":4},
{"s":"C6","w":886,"v":70},{"s":"C6","w":888,"v":-20},{"s":"C6","w":890,"v":100},{"s":"C6","w":892,"v":40},{"s":"C6","w":894,"v":-70},{"s":"C6","w":896,"v":130},{"s":"C6","w":898,"v":20},{"s":"C6","w":900,"v":60},{"s":"C6","w":902,"v":-40},{"s":"C6","w":904,"v":90},{"s":"C6","w":906,"v":150},{"s":"C6","w":908,"v":-10},{"s":"C6","w":910,"v":50},{"s":"C6","w":912,"v":-90},{"s":"C6","w":914,"v":110},{"s":"C6","w":916,"v":30},{"s":"C6","w":918,"v":70},{"s":"C6","w":920,"v":-30},{"s":"C6","w":922,"v":120},{"s":"C6","w":924,"v":0},{"s":"C6","w":926,"v":80},{"s":"C6","w":928,"v":-60},{"s":"C6","w":930,"v":140},{"s":"C6","w":932,"v":40},{"s":"C6","w":934,"v":-20},{"s":"C6","w":936,"v":100},{"s":"C6","w":938,"v":60},{"s":"C6","w":940,"v":10},
{"s":"C6b","w":694,"v":90},{"s":"C6b","w":696,"v":-20},{"s":"C6b","w":698,"v":50},{"s":"C6b","w":700,"v":130},{"s":"C6b","w":702,"v":-60},{"s":"C6b","w":704,"v":20},{"s":"C6b","w":706,"v":80},{"s":"C6b","w":708,"v":-40},{"s":"C6b","w":710,"v":110},{"s":"C6b","w":712,"v":60},{"s":"C6b","w":714,"v":-10},{"s":"C6b","w":716,"v":140},{"s":"C6b","w":718,"v":30},{"s":"C6b","w":720,"v":-70},{"s":"C6b","w":722,"v":70},{"s":"C6b","w":724,"v":10},{"s":"C6b","w":726,"v":100},{"s":"C6b","w":728,"v":-50},{"s":"C6b","w":730,"v":50},{"s":"C6b","w":732,"v":150},{"s":"C6b","w":734,"v":-30},{"s":"C6b","w":736,"v":40},{"s":"C6b","w":738,"v":90},{"s":"C6b","w":740,"v":-20},{"s":"C6b","w":742,"v":60},{"s":"C6b","w":744,"v":120},
{"s":"C6b","w":746,"v":37},{"s":"C6b","w":748,"v":159},{"s":"C6b","w":750,"v":105},{"s":"C6b","w":752,"v":53},{"s":"C6b","w":754,"v":222},{"s":"C6b","w":756,"v":186},{"s":"C6b","w":758,"v":106},{"s":"C6b","w":760,"v":303},{"s":"C6b","w":762,"v":280},{"s":"C6b","w":764,"v":258},{"s":"C6b","w":766,"v":469},{"s":"C6b","w":768,"v":447},{"s":"C6b","w":770,"v":458},{"s":"C6b","w":772,"v":683},{"s":"C6b","w":774,"v":719},{"s":"C6b","w":776,"v":736},{"s":"C6b","w":778,"v":996},{"s":"C6b","w":780,"v":1044},{"s":"C6b","w":782,"v":1131},{"s":"C6b","w":784,"v":1425},{"s":"C6b","w":786,"v":1565},{"s":"C6b","w":788,"v":1678},{"s":"C6b","w":790,"v":2092},{"s":"C6b","w":792,"v":2277},{"s":"C6b","w":794,"v":2522},{"s":"C6b","w":796,"v":2987},{"s":"C6b","w":798,"v":3293},{"s":"C6b","w":800,"v":3583},{"s":"C6b","w":802,"v":4168},{"s":"C6b","w":804,"v":4509},{"s":"C6b","w":806,"v":4854},{"s":"C6b","w":808,"v":5374},{"s":"C6b","w":810,"v":5666},{"s":"C6b","w":812,"v":5844},{"s":"C6b","w":814,"v":6159},{"s":"C6b","w":816,"v":6150},{"s":"C6b","w":818,"v":6019},{"s":"C6b","w":820,"v":6004},{"s":"C6b","w":822,"v":5676},{"s":"C6b","w":824,"v":5264},{"s":"C6b","w":826,"v":4994},{"s":"C6b","w":828,"v":4609},{"s":"C6b","w":830,"v":4048},{"s":"C6b","w":832,"v":3723},{"s":"C6b","w":834,"v":3283},{"s":"C6b","w":836,"v":2837},{"s":"C6b","w":838,"v":2662},{"s":"C6b","w":840,"v":2287},{"s":"C6b","w":842,"v":1942},{"s":"C6b","w":844,"v":1818},{"s":"C6b","w":846,"v":1545},{"s":"C6b","w":848,"v":1275},{"s":"C6b","w":850,"v":1281},{"s":"C6b","w":852,"v":1054},{"s":"C6b","w":854,"v":846},{"s":"C6b","w":856,"v":876},{"s":"C6b","w":858,"v":709},{"s":"C6b","w":860,"v":543},{"s":"C6b","w":862,"v":618},{"s":"C6b","w":864,"v":467},{"s":"C6b","w":866,"v":329},{"s":"C6b","w":868,"v":378},{"s":"C6b","w":870,"v":260},{"s":"C6b","w":872,"v":153},{"s":"C6b","w":874,"v":266},{"s":"C6b","w":876,"v":166},{"s":"C6b","w":878,"v":72},{"s":"C6b","w":880,"v":203},{"s":"C6b","w":882,"v":115},{"s":"C6b","w":884,"v":39},{"s":"C6b","w":886,"v":137},
{"s":"C6b","w":888,"v":30},{"s":"C6b","w":890,"v":-50},{"s":"C6b","w":892,"v":100},{"s":"C6b","w":894,"v":60},{"s":"C6b","w":896,"v":-20},{"s":"C6b","w":898,"v":130},{"s":"C6b","w":900,"v":20},{"s":"C6b","w":902,"v":-60},{"s":"C6b","w":904,"v":90},{"s":"C6b","w":906,"v":40},{"s":"C6b","w":908,"v":150},{"s":"C6b","w":910,"v":-10},{"s":"C6b","w":912,"v":70},{"s":"C6b","w":914,"v":-40},{"s":"C6b","w":916,"v":110},{"s":"C6b","w":918,"v":30},{"s":"C6b","w":920,"v":80},{"s":"C6b","w":922,"v":-30},{"s":"C6b","w":924,"v":140},{"s":"C6b","w":926,"v":10},{"s":"C6b","w":928,"v":-70},{"s":"C6b","w":930,"v":90},{"s":"C6b","w":932,"v":50},{"s":"C6b","w":934,"v":120},{"s":"C6b","w":936,"v":-20},{"s":"C6b","w":938,"v":60},{"s":"C6b","w":940,"v":0},
{"s":"C7","w":694,"v":100},{"s":"C7","w":696,"v":250},{"s":"C7","w":698,"v":50},{"s":"C7","w":700,"v":180},{"s":"C7","w":702,"v":-40},{"s":"C7","w":704,"v":300},{"s":"C7","w":706,"v":120},{"s":"C7","w":708,"v":400},{"s":"C7","w":710,"v":60},{"s":"C7","w":712,"v":220},{"s":"C7","w":714,"v":350},{"s":"C7","w":716,"v":90},{"s":"C7","w":718,"v":500},{"s":"C7","w":720,"v":150},{"s":"C7","w":722,"v":280},{"s":"C7","w":724,"v":700},{"s":"C7","w":726,"v":200},{"s":"C7","w":728,"v":380},{"s":"C7","w":730,"v":120},{"s":"C7","w":732,"v":450},{"s":"C7","w":734,"v":260},{"s":"C7","w":736,"v":600},{"s":"C7","w":738,"v":180},{"s":"C7","w":740,"v":320},{"s":"C7","w":742,"v":520},{"s":"C7","w":744,"v":240},{"s":"C7","w":746,"v":410},
{"s":"C7","w":748,"v":360},{"s":"C7","w":750,"v":225},{"s":"C7","w":752,"v":634},{"s":"C7","w":754,"v":299},{"s":"C7","w":756,"v":494},{"s":"C7","w":758,"v":834},{"s":"C7","w":760,"v":414},{"s":"C7","w":762,"v":613},{"s":"C7","w":764,"v":378},{"s":"C7","w":766,"v":773},{"s":"C7","w":768,"v":527},{"s":"C7","w":770,"v":736},{"s":"C7","w":772,"v":586},{"s":"C7","w":774,"v":830},{"s":"C7","w":776,"v":684},{"s":"C7","w":778,"v":888},{"s":"C7","w":780,"v":762},{"s":"C7","w":782,"v":1046},{"s":"C7","w":784,"v":1060},{"s":"C7","w":786,"v":1104},{"s":"C7","w":788,"v":1417},{"s":"C7","w":790,"v":1535},{"s":"C7","w":792,"v":1673},{"s":"C7","w":794,"v":2026},{"s":"C7","w":796,"v":2243},{"s":"C7","w":798,"v":2420},{"s":"C7","w":800,"v":2867},{"s":"C7","w":802,"v":3149},{"s":"C7","w":804,"v":3435},{"s":"C7","w":806,"v":3902},{"s":"C7","w":808,"v":4168},{"s":"C7","w":810,"v":4390},{"s":"C7","w":812,"v":4748},{"s":"C7","w":814,"v":4976},{"s":"C7","w":816,"v":4940},{"s":"C7","w":818,"v":5030},{"s":"C7","w":820,"v":4886},{"s":"C7","w":822,"v":4628},{"s":"C7","w":824,"v":4490},{"s":"C7","w":826,"v":4238},{"s":"C7","w":828,"v":3802},{"s":"C7","w":830,"v":3525},{"s":"C7","w":832,"v":3079},{"s":"C7","w":834,"v":2887},{"s":"C7","w":836,"v":2520},{"s":"C7","w":838,"v":2173},{"s":"C7","w":840,"v":2016},{"s":"C7","w":842,"v":1833},{"s":"C7","w":844,"v":1485},{"s":"C7","w":846,"v":1397},{"s":"C7","w":848,"v":1184},{"s":"C7","w":850,"v":1170},{"s":"C7","w":852,"v":1196},{"s":"C7","w":854,"v":862},{"s":"C7","w":856,"v":938},{"s":"C7","w":858,"v":504},{"s":"C7","w":860,"v":590},{"s":"C7","w":862,"v":266},{"s":"C7","w":864,"v":506},{"s":"C7","w":866,"v":-23},{"s":"C7","w":868,"v":-427},{"s":"C7","w":870,"v":-72},{"s":"C7","w":872,"v":-407},{"s":"C7","w":874,"v":204},{"s":"C7","w":876,"v":-316},{"s":"C7","w":878,"v":-36},{"s":"C7","w":880,"v":-401},{"s":"C7","w":882,"v":144},{"s":"C7","w":884,"v":-125},{"s":"C7","w":886,"v":140},
{"s":"C7","w":888,"v":-60},{"s":"C7","w":890,"v":90},{"s":"C7","w":892,"v":20},{"s":"C7","w":894,"v":-120},{"s":"C7","w":896,"v":50},{"s":"C7","w":898,"v":110},{"s":"C7","w":900,"v":-30},{"s":"C7","w":902,"v":70},{"s":"C7","w":904,"v":-80},{"s":"C7","w":906,"v":40},{"s":"C7","w":908,"v":130},{"s":"C7","w":910,"v":0},{"s":"C7","w":912,"v":-50},{"s":"C7","w":914,"v":90},{"s":"C7","w":916,"v":30},{"s":"C7","w":918,"v":-100},{"s":"C7","w":920,"v":60},{"s":"C7","w":922,"v":120},{"s":"C7","w":924,"v":-20},{"s":"C7","w":926,"v":50},{"s":"C7","w":928,"v":-70},{"s":"C7","w":930,"v":100},{"s":"C7","w":932,"v":20},{"s":"C7","w":934,"v":-40},{"s":"C7","w":936,"v":80},{"s":"C7","w":938,"v":10},{"s":"C7","w":940,"v":60},
{"s":"C8","w":694,"v":10},{"s":"C8","w":696,"v":90},{"s":"C8","w":698,"v":-40},{"s":"C8","w":700,"v":60},{"s":"C8","w":702,"v":140},{"s":"C8","w":704,"v":-20},{"s":"C8","w":706,"v":70},{"s":"C8","w":708,"v":0},{"s":"C8","w":710,"v":110},{"s":"C8","w":712,"v":-60},{"s":"C8","w":714,"v":40},{"s":"C8","w":716,"v":100},{"s":"C8","w":718,"v":-10},{"s":"C8","w":720,"v":60},{"s":"C8","w":722,"v":130},{"s":"C8","w":724,"v":-50},{"s":"C8","w":726,"v":20},{"s":"C8","w":728,"v":80},{"s":"C8","w":730,"v":-30},{"s":"C8","w":732,"v":150},{"s":"C8","w":734,"v":50},{"s":"C8","w":736,"v":-20},{"s":"C8","w":738,"v":90},{"s":"C8","w":740,"v":30},{"s":"C8","w":742,"v":-70},{"s":"C8","w":744,"v":60},
{"s":"C8","w":746,"v":112},{"s":"C8","w":748,"v":32},{"s":"C8","w":750,"v":168},{"s":"C8","w":752,"v":114},{"s":"C8","w":754,"v":50},{"s":"C8","w":756,"v":241},{"s":"C8","w":758,"v":197},{"s":"C8","w":760,"v":159},{"s":"C8","w":762,"v":301},{"s":"C8","w":764,"v":383},{"s":"C8","w":766,"v":296},{"s":"C8","w":768,"v":435},{"s":"C8","w":770,"v":584},{"s":"C8","w":772,"v":488},{"s":"C8","w":774,"v":672},{"s":"C8","w":776,"v":707},{"s":"C8","w":778,"v":893},{"s":"C8","w":780,"v":844},{"s":"C8","w":782,"v":1081},{"s":"C8","w":784,"v":1304},{"s":"C8","w":786,"v":1339},{"s":"C8","w":788,"v":1594},{"s":"C8","w":790,"v":1666},{"s":"C8","w":792,"v":2055},{"s":"C8","w":794,"v":2260},{"s":"C8","w":796,"v":2641},{"s":"C8","w":798,"v":2819},{"s":"C8","w":800,"v":3248},{"s":"C8","w":802,"v":3679},{"s":"C8","w":804,"v":3874},{"s":"C8","w":806,"v":4355},{"s":"C8","w":808,"v":4624},{"s":"C8","w":810,"v":4841},{"s":"C8","w":812,"v":5244},{"s":"C8","w":814,"v":5317},{"s":"C8","w":816,"v":5280},{"s":"C8","w":818,"v":5367},{"s":"C8","w":820,"v":5154},{"s":"C8","w":822,"v":4821},{"s":"C8","w":824,"v":4664},{"s":"C8","w":826,"v":4395},{"s":"C8","w":828,"v":3894},{"s":"C8","w":830,"v":3609},{"s":"C8","w":832,"v":3198},{"s":"C8","w":834,"v":2779},{"s":"C8","w":836,"v":2621},{"s":"C8","w":838,"v":2270},{"s":"C8","w":840,"v":1935},{"s":"C8","w":842,"v":1806},{"s":"C8","w":844,"v":1644},{"s":"C8","w":846,"v":1289},{"s":"C8","w":848,"v":1224},{"s":"C8","w":850,"v":1041},{"s":"C8","w":852,"v":824},{"s":"C8","w":854,"v":873},{"s":"C8","w":856,"v":727},{"s":"C8","w":858,"v":582},{"s":"C8","w":860,"v":628},{"s":"C8","w":862,"v":464},{"s":"C8","w":864,"v":315},{"s":"C8","w":866,"v":396},{"s":"C8","w":868,"v":293},{"s":"C8","w":870,"v":171},{"s":"C8","w":872,"v":279},{"s":"C8","w":874,"v":177},{"s":"C8","w":876,"v":91},{"s":"C8","w":878,"v":180},{"s":"C8","w":880,"v":104},{"s":"C8","w":882,"v":28},{"s":"C8","w":884,"v":162},{"s":"C8","w":886,"v":82},
{"s":"C8","w":888,"v":60},{"s":"C8","w":890,"v":-30},{"s":"C8","w":892,"v":120},{"s":"C8","w":894,"v":40},{"s":"C8","w":896,"v":-50},{"s":"C8","w":898,"v":90},{"s":"C8","w":900,"v":10},{"s":"C8","w":902,"v":130},{"s":"C8","w":904,"v":-20},{"s":"C8","w":906,"v":70},{"s":"C8","w":908,"v":30},{"s":"C8","w":910,"v":-60},{"s":"C8","w":912,"v":110},{"s":"C8","w":914,"v":50},{"s":"C8","w":916,"v":-10},{"s":"C8","w":918,"v":140},{"s":"C8","w":920,"v":20},{"s":"C8","w":922,"v":80},{"s":"C8","w":924,"v":-40},{"s":"C8","w":926,"v":100},{"s":"C8","w":928,"v":0},{"s":"C8","w":930,"v":60},{"s":"C8","w":932,"v":150},{"s":"C8","w":934,"v":-30},{"s":"C8","w":936,"v":40},{"s":"C8","w":938,"v":90},{"s":"C8","w":940,"v":-10},
{"s":"C9","w":694,"v":30},{"s":"C9","w":696,"v":90},{"s":"C9","w":698,"v":-50},{"s":"C9","w":700,"v":60},{"s":"C9","w":702,"v":120},{"s":"C9","w":704,"v":-20},{"s":"C9","w":706,"v":40},{"s":"C9","w":708,"v":80},{"s":"C9","w":710,"v":-70},{"s":"C9","w":712,"v":110},{"s":"C9","w":714,"v":10},{"s":"C9","w":716,"v":50},{"s":"C9","w":718,"v":-40},{"s":"C9","w":720,"v":140},{"s":"C9","w":722,"v":70},{"s":"C9","w":724,"v":-10},{"s":"C9","w":726,"v":100},{"s":"C9","w":728,"v":30},{"s":"C9","w":730,"v":-60},{"s":"C9","w":732,"v":90},{"s":"C9","w":734,"v":20},{"s":"C9","w":736,"v":130},{"s":"C9","w":738,"v":-30},{"s":"C9","w":740,"v":60},{"s":"C9","w":742,"v":0},{"s":"C9","w":744,"v":80},{"s":"C9","w":746,"v":40},
{"s":"C9","w":748,"v":127},{"s":"C9","w":750,"v":45},{"s":"C9","w":752,"v":188},{"s":"C9","w":754,"v":136},{"s":"C9","w":756,"v":75},{"s":"C9","w":758,"v":269},{"s":"C9","w":760,"v":226},{"s":"C9","w":762,"v":183},{"s":"C9","w":764,"v":356},{"s":"C9","w":766,"v":351},{"s":"C9","w":768,"v":329},{"s":"C9","w":770,"v":573},{"s":"C9","w":772,"v":611},{"s":"C9","w":774,"v":621},{"s":"C9","w":776,"v":833},{"s":"C9","w":778,"v":868},{"s":"C9","w":780,"v":905},{"s":"C9","w":782,"v":1216},{"s":"C9","w":784,"v":1290},{"s":"C9","w":786,"v":1388},{"s":"C9","w":788,"v":1721},{"s":"C9","w":790,"v":1885},{"s":"C9","w":792,"v":2063},{"s":"C9","w":794,"v":2522},{"s":"C9","w":796,"v":2782},{"s":"C9","w":798,"v":3069},{"s":"C9","w":800,"v":3570},{"s":"C9","w":802,"v":3912},{"s":"C9","w":804,"v":4250},{"s":"C9","w":806,"v":4851},{"s":"C9","w":808,"v":5177},{"s":"C9","w":810,"v":5472},{"s":"C9","w":812,"v":5909},{"s":"C9","w":814,"v":6071},{"s":"C9","w":816,"v":6098},{"s":"C9","w":818,"v":6268},{"s":"C9","w":820,"v":6091},{"s":"C9","w":822,"v":5799},{"s":"C9","w":824,"v":5612},{"s":"C9","w":826,"v":5277},{"s":"C9","w":828,"v":4721},{"s":"C9","w":830,"v":4380},{"s":"C9","w":832,"v":4042},{"s":"C9","w":834,"v":3490},{"s":"C9","w":836,"v":3199},{"s":"C9","w":838,"v":2802},{"s":"C9","w":840,"v":2382},{"s":"C9","w":842,"v":2253},{"s":"C9","w":844,"v":1905},{"s":"C9","w":846,"v":1721},{"s":"C9","w":848,"v":1408},{"s":"C9","w":850,"v":1360},{"s":"C9","w":852,"v":1146},{"s":"C9","w":854,"v":915},{"s":"C9","w":856,"v":938},{"s":"C9","w":858,"v":763},{"s":"C9","w":860,"v":591},{"s":"C9","w":862,"v":681},{"s":"C9","w":864,"v":503},{"s":"C9","w":866,"v":359},{"s":"C9","w":868,"v":411},{"s":"C9","w":870,"v":286},{"s":"C9","w":872,"v":163},{"s":"C9","w":874,"v":296},{"s":"C9","w":876,"v":199},{"s":"C9","w":878,"v":85},{"s":"C9","w":880,"v":206},{"s":"C9","w":882,"v":118},{"s":"C9","w":884,"v":25},{"s":"C9","w":886,"v":167},
{"s":"C9","w":888,"v":50},{"s":"C9","w":890,"v":-40},{"s":"C9","w":892,"v":110},{"s":"C9","w":894,"v":20},{"s":"C9","w":896,"v":70},{"s":"C9","w":898,"v":-60},{"s":"C9","w":900,"v":130},{"s":"C9","w":902,"v":40},{"s":"C9","w":904,"v":-10},{"s":"C9","w":906,"v":90},{"s":"C9","w":908,"v":160},{"s":"C9","w":910,"v":-30},{"s":"C9","w":912,"v":60},{"s":"C9","w":914,"v":20},{"s":"C9","w":916,"v":100},{"s":"C9","w":918,"v":-50},{"s":"C9","w":920,"v":80},{"s":"C9","w":922,"v":140},{"s":"C9","w":924,"v":10},{"s":"C9","w":926,"v":-20},{"s":"C9","w":928,"v":120},{"s":"C9","w":930,"v":60},{"s":"C9","w":932,"v":-70},{"s":"C9","w":934,"v":90},{"s":"C9","w":936,"v":30},{"s":"C9","w":938,"v":150},{"s":"C9","w":940,"v":0}
],
"noisy": [
{"s":"C3","w":694.5,"v":-6000},{"s":"C3","w":697.3,"v":5480},{"s":"C3","w":699.1,"v":-7000},{"s":"C3","w":701.0,"v":2100},{"s":"C3","w":702.9,"v":-5000},{"s":"C3","w":704.8,"v":-8000},{"s":"C3","w":706.7,"v":4805},{"s":"C3","w":707.6,"v":-6000},{"s":"C3","w":708.6,"v":2570},{"s":"C3","w":709.5,"v":-4000},{"s":"C3","w":710.4,"v":2570},{"s":"C3","w":711.5,"v":-7000},{"s":"C3","w":712.5,"v":3715},{"s":"C3","w":713.4,"v":-5000},{"s":"C3","w":714.3,"v":1660},{"s":"C3","w":715.3,"v":-6000},{"s":"C3","w":717.0,"v":-9000},{"s":"C3","w":718.9,"v":-4000},{"s":"C3","w":719.8,"v":4390},{"s":"C3","w":720.8,"v":-7000},{"s":"C3","w":721.7,"v":5350},{"s":"C3","w":722.6,"v":-5000},{"s":"C3","w":723.5,"v":2130},{"s":"C3","w":724.5,"v":-6000},{"s":"C3","w":725.6,"v":3740},{"s":"C3","w":726.6,"v":-8000},{"s":"C3","w":727.6,"v":6470},{"s":"C3","w":728.5,"v":-4000},{"s":"C3","w":729.5,"v":3450},{"s":"C3","w":730.4,"v":-7000},{"s":"C3","w":731.3,"v":1840},{"s":"C3","w":732.2,"v":-5000},{"s":"C3","w":733.1,"v":2730},{"s":"C3","w":734.0,"v":-6000},{"s":"C3","w":735.0,"v":3430},{"s":"C3","w":736.0,"v":-4000},{"s":"C3","w":737.0,"v":4830},{"s":"C3","w":738.0,"v":-8000},{"s":"C3","w":738.9,"v":2200},{"s":"C3","w":739.8,"v":-5000},{"s":"C3","w":740.7,"v":2670},{"s":"C3","w":741.6,"v":-6000},{"s":"C3","w":742.6,"v":4160},{"s":"C3","w":743.5,"v":-4000},{"s":"C3","w":744.4,"v":4570},{"s":"C3","w":745.4,"v":-7000},{"s":"C3","w":746.4,"v":3970},{"s":"C3","w":747.2,"v":-5000},
{"s":"C3","w":748.0,"v":11000},{"s":"C3","w":748.6,"v":3340},{"s":"C3","w":749.1,"v":10000},{"s":"C3","w":749.6,"v":6650},{"s":"C3","w":750.4,"v":1700},{"s":"C3","w":751.2,"v":9000},{"s":"C3","w":751.7,"v":5030},{"s":"C3","w":752.5,"v":12000},{"s":"C3","w":753.8,"v":4560},{"s":"C3","w":754.7,"v":11000},{"s":"C3","w":755.7,"v":5530},{"s":"C3","w":756.6,"v":13000},{"s":"C3","w":757.6,"v":7400},{"s":"C3","w":758.3,"v":10000},{"s":"C3","w":759.0,"v":6650},{"s":"C3","w":759.8,"v":1700},{"s":"C3","w":760.5,"v":12000},{"s":"C3","w":761.3,"v":2790},{"s":"C3","w":762.2,"v":11000},{"s":"C3","w":763.2,"v":4560},{"s":"C3","w":763.8,"v":12000},{"s":"C3","w":765.0,"v":1000},
{"s":"C3","w":766,"v":380},{"s":"C3","w":768,"v":330},{"s":"C3","w":770,"v":490},{"s":"C3","w":772,"v":510},{"s":"C3","w":774,"v":640},{"s":"C3","w":776,"v":660},{"s":"C3","w":778,"v":820},{"s":"C3","w":780,"v":870},{"s":"C3","w":782,"v":1060},{"s":"C3","w":784,"v":1150},{"s":"C3","w":786,"v":1370},{"s":"C3","w":788,"v":1490},{"s":"C3","w":790,"v":1760},{"s":"C3","w":792,"v":1950},{"s":"C3","w":794,"v":2270},{"s":"C3","w":796,"v":2510},{"s":"C3","w":798,"v":2880},{"s":"C3","w":800,"v":3160},{"s":"C3","w":802,"v":3580},{"s":"C3","w":804,"v":3890},{"s":"C3","w":806,"v":4300},{"s":"C3","w":808,"v":4590},{"s":"C3","w":810,"v":4940},{"s":"C3","w":812,"v":5110},{"s":"C3","w":814,"v":5310},{"s":"C3","w":816,"v":5290},{"s":"C3","w":818,"v":5320},{"s":"C3","w":820,"v":5100},{"s":"C3","w":822,"v":4930},{"s":"C3","w":824,"v":4570},{"s":"C3","w":826,"v":4300},{"s":"C3","w":828,"v":3870},{"s":"C3","w":830,"v":3570},{"s":"C3","w":832,"v":3140},{"s":"C3","w":834,"v":2870},{"s":"C3","w":836,"v":2480},{"s":"C3","w":838,"v":2260},{"s":"C3","w":840,"v":1920},{"s":"C3","w":842,"v":1760},{"s":"C3","w":844,"v":1470},{"s":"C3","w":846,"v":1360},{"s":"C3","w":848,"v":1120},{"s":"C3","w":850,"v":1050},{"s":"C3","w":852,"v":850},{"s":"C3","w":854,"v":820},{"s":"C3","w":856,"v":640},{"s":"C3","w":858,"v":630},{"s":"C3","w":860,"v":700},
{"s":"C3","w":861.5,"v":12000},{"s":"C3","w":863.5,"v":4196},{"s":"C3","w":864.5,"v":9000},{"s":"C3","w":865.5,"v":3180},{"s":"C3","w":866.5,"v":11000},{"s":"C3","w":867.5,"v":9000},{"s":"C3","w":868.3,"v":12000},{"s":"C3","w":869.2,"v":2710},{"s":"C3","w":870.2,"v":12000},{"s":"C3","w":871.3,"v":3670},{"s":"C3","w":872.3,"v":6440},{"s":"C3","w":873.4,"v":3420},{"s":"C3","w":874.0,"v":12000},{"s":"C3","w":874.6,"v":930},{"s":"C3","w":875.3,"v":14000},{"s":"C3","w":875.9,"v":-6000},{"s":"C3","w":876.8,"v":14000},{"s":"C3","w":877.7,"v":-5000},{"s":"C3","w":878.6,"v":5240},{"s":"C3","w":879.6,"v":-7000},{"s":"C3","w":880.7,"v":5740},{"s":"C3","w":881.5,"v":-4000},{"s":"C3","w":882.3,"v":4040},{"s":"C3","w":883.3,"v":-6000},{"s":"C3","w":884.4,"v":3810},{"s":"C3","w":885.4,"v":-8000},{"s":"C3","w":886.4,"v":3200},{"s":"C3","w":887.3,"v":-5000},{"s":"C3","w":888.3,"v":12000},{"s":"C3","w":889.5,"v":-7000},{"s":"C3","w":890.6,"v":-4000},{"s":"C3","w":891.7,"v":5340},{"s":"C3","w":892.7,"v":-6000},{"s":"C3","w":893.8,"v":2960},{"s":"C3","w":894.7,"v":-5000},{"s":"C3","w":895.6,"v":4140},{"s":"C3","w":896.3,"v":-7000},{"s":"C3","w":897.1,"v":2800},{"s":"C3","w":898.5,"v":-4000},{"s":"C3","w":899.8,"v":-8000},{"s":"C3","w":901.1,"v":3020},{"s":"C3","w":902.0,"v":-5000},{"s":"C3","w":903.5,"v":-7000},{"s":"C3","w":904.7,"v":7330},{"s":"C3","w":905.5,"v":-6000},{"s":"C3","w":906.3,"v":3340},{"s":"C3","w":907.5,"v":-4000},{"s":"C3","w":909.0,"v":-8000},{"s":"C3","w":910.5,"v":4690},{"s":"C3","w":911.2,"v":-5000},{"s":"C3","w":912.0,"v":3150},{"s":"C3","w":913.0,"v":-7000},{"s":"C3","w":913.9,"v":4900},{"s":"C3","w":914.9,"v":-4000},{"s":"C3","w":915.9,"v":2940},{"s":"C3","w":917.0,"v":-6000},{"s":"C3","w":918.5,"v":-9000},{"s":"C3","w":920.0,"v":-5000},{"s":"C3","w":921.5,"v":2760},{"s":"C3","w":923.2,"v":-6000},{"s":"C3","w":924.9,"v":2520},{"s":"C3","w":926.0,"v":-4000},{"s":"C3","w":927.0,"v":2130},{"s":"C3","w":928.7,"v":-7000},{"s":"C3","w":930.5,"v":2130},{"s":"C3","w":931.5,"v":-5000},{"s":"C3","w":932.4,"v":2450},{"s":"C3","w":933.3,"v":-6000},{"s":"C3","w":934.2,"v":2430},{"s":"C3","w":935.2,"v":-4000},{"s":"C3","w":936.3,"v":2430},{"s":"C3","w":937.3,"v":-7000},{"s":"C3","w":938.4,"v":2430},{"s":"C3","w":939.4,"v":-5000},{"s":"C3","w":940.5,"v":2400}
],
"centers": [
{"s":"C6","m":812.9},{"s":"C6","m":813.4},{"s":"C4","m":813.9},{"s":"C5","m":814.5},{"s":"C5","m":815.0},{"s":"C3","m":815.5},{"s":"C6","m":816.0},{"s":"C5","m":816.5},{"s":"C2","m":817.1},{"s":"C7","m":817.6},{"s":"C9","m":818.1},{"s":"C1","m":818.6},{"s":"C1","m":819.0}
]
},
"layer": [
{"data": {"name": "spectra"},
 "mark": {"type": "line", "strokeWidth": 3, "opacity": 0.72, "clip": true},
 "encoding": {
  "x": {"field": "w", "type": "quantitative", "scale": {"domain": [694.4, 939.8], "nice": false, "zero": false},
        "axis": {"values": [700, 750, 800, 850, 900], "title": "λ [nm]", "labelPadding": 6, "titlePadding": 13}},
  "y": {"field": "v", "type": "quantitative", "scale": {"domain": [-1000, 8100], "nice": false, "zero": false},
        "axis": {"values": [0, 2000, 4000, 6000, 8000], "title": "Spectrum [ADU]", "labelPadding": 7, "titlePadding": 10}},
  "color": {"field": "s", "type": "nominal", "legend": null,
            "scale": {"domain": ["C0","C0b","C1","C1b","C2","C2b","C3","C4","C5","C6","C6b","C7","C8","C9"], "range": ["#1f77b4","#1f77b4","#ff7f0e","#ff7f0e","#2ca02c","#2ca02c","#d62728","#9467bd","#8c564b","#e377c2","#e377c2","#7f7f7f","#bcbd22","#17becf"]}}
 }},
{"data": {"name": "noisy"},
 "mark": {"type": "line", "strokeWidth": 2.5, "opacity": 0.55, "clip": true},
 "encoding": {
  "x": {"field": "w", "type": "quantitative"},
  "y": {"field": "v", "type": "quantitative"},
  "color": {"field": "s", "type": "nominal", "legend": null}
 }},
{"data": {"name": "centers"},
 "mark": {"type": "rule", "strokeWidth": 2, "opacity": 0.85},
 "encoding": {
  "x": {"field": "m", "type": "quantitative"},
  "color": {"field": "s", "type": "nominal", "legend": null}
 }}
]
}
